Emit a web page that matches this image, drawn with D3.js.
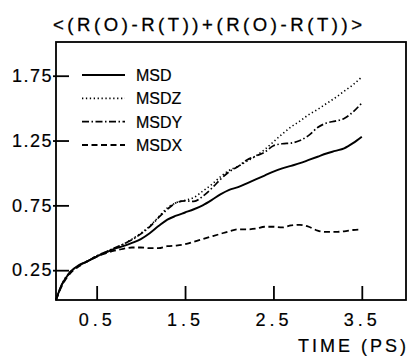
<!DOCTYPE html>
<html>
<head>
<meta charset="utf-8">
<script src="https://cdn.jsdelivr.net/npm/d3@7"></script>
<style>
  html, body { margin: 0; padding: 0; background: #fff; }
  svg { display: block; font-family: "Liberation Sans", Arial, sans-serif; }
</style>
</head>
<body>
<svg id="chart" width="408" height="358"></svg>
<script>
// time axis (ps)
const time = [0.04, 0.1, 0.2, 0.3, 0.4, 0.5, 0.6, 0.7, 0.8, 0.9, 1.0, 1.1, 1.2, 1.3, 1.4, 1.5, 1.6, 1.7, 1.8,
  1.9, 2.0, 2.1, 2.2, 2.3, 2.4, 2.5, 2.6, 2.7, 2.8, 2.9, 3.0, 3.1, 3.2, 3.3, 3.4, 3.5];

const msd = [0.02, 0.13, 0.235, 0.29, 0.32, 0.355, 0.385, 0.415, 0.435, 0.46, 0.49, 0.535, 0.59, 0.64, 0.67,
  0.695, 0.72, 0.75, 0.79, 0.835, 0.87, 0.89, 0.92, 0.95, 0.98, 1.01, 1.035, 1.055, 1.075, 1.10, 1.125, 1.15,
  1.17, 1.19, 1.23, 1.28];
const msdz = [0.02, 0.13, 0.235, 0.285, 0.32, 0.36, 0.39, 0.42, 0.45, 0.49, 0.535, 0.59, 0.66, 0.73, 0.77,
  0.79, 0.81, 0.86, 0.91, 0.97, 1.02, 1.05, 1.09, 1.13, 1.18, 1.24, 1.30, 1.355, 1.40, 1.45, 1.49, 1.535,
  1.58, 1.63, 1.68, 1.74];
const msdy = [0.02, 0.13, 0.235, 0.285, 0.32, 0.36, 0.39, 0.42, 0.45, 0.485, 0.53, 0.585, 0.655, 0.72, 0.77,
  0.785, 0.78, 0.82, 0.88, 0.95, 1.01, 1.05, 1.10, 1.13, 1.16, 1.21, 1.225, 1.23, 1.25, 1.29, 1.35, 1.385,
  1.40, 1.42, 1.47, 1.54];
const msdx = [0.02, 0.12, 0.225, 0.28, 0.32, 0.355, 0.38, 0.40, 0.415, 0.425, 0.425, 0.42, 0.42, 0.435, 0.44,
  0.45, 0.47, 0.49, 0.51, 0.53, 0.55, 0.565, 0.565, 0.57, 0.585, 0.585, 0.58, 0.595, 0.60, 0.585, 0.555,
  0.545, 0.545, 0.55, 0.56, 0.565];

const seriesNames = ['MSD', 'MSDZ', 'MSDY', 'MSDX'];
const xTicks = [0.5, 1.5, 2.5, 3.5];
const yTicks = [0.25, 0.75, 1.25, 1.75];
const yTickLabels = ['0.25', '0.75', '1.25', '1.75'];

const series = [
  { name: 'MSD', values: msd, dash: null, width: 1.9 },
  { name: 'MSDZ', values: msdz, dash: '1.3,2.6', width: 1.6 },
  { name: 'MSDY', values: msdy, dash: '7,2.5,1.5,2.5', width: 1.7 },
  { name: 'MSDX', values: msdx, dash: '6,3.5', width: 1.8 }
];

const plotLeft = 56, plotRight = 406, plotTop = 42, plotBottom = 300;

const x = d3.scaleLinear().domain([0.04, 4.0]).range([plotLeft, plotRight]);
const y = d3.scaleLinear().domain([0.02, 2.01]).range([plotBottom, plotTop]);

const svg = d3.select('#chart');

// title, stretched to the width it has in the original
svg.append('text')
  .attr('x', 53)
  .attr('y', 31)
  .attr('textLength', 309)
  .attr('lengthAdjust', 'spacing')
  .style('font-size', '18.5px')
  .attr('stroke', '#000')
  .attr('stroke-width', 0.3)
  .text('<(R(O)-R(T))+(R(O)-R(T))>');

// frame
svg.append('rect')
  .attr('x', plotLeft)
  .attr('y', plotTop)
  .attr('width', plotRight - plotLeft)
  .attr('height', plotBottom - plotTop)
  .attr('fill', 'none')
  .attr('stroke', '#000')
  .attr('stroke-width', 1.8);

const xAxis = svg.append('g')
  .attr('transform', `translate(0,${plotBottom})`)
  .call(d3.axisBottom(x).tickValues(xTicks).tickSize(-14).tickPadding(13).tickFormat(d3.format('.1f')));

const yAxis = svg.append('g')
  .attr('transform', `translate(${plotLeft},0)`)
  .call(d3.axisLeft(y).tickValues(yTicks).tickSize(-13).tickPadding(3)
    .tickFormat((d, i) => yTickLabels[i]));

[xAxis, yAxis].forEach(a => {
  a.select('.domain').remove();
  a.selectAll('.tick line').attr('stroke', '#000').attr('stroke-width', 1.8);
  a.selectAll('.tick text')
    .attr('fill', '#000')
    .attr('stroke', '#000')
    .attr('stroke-width', 0.2)
    .style('font-family', '"Liberation Sans", Arial, sans-serif')
    .style('font-size', '18px');
});
xAxis.selectAll('.tick text').style('letter-spacing', '4px');
yAxis.selectAll('.tick text').style('letter-spacing', '1.5px');
// the y tick marks poke slightly outside the frame
yAxis.selectAll('.tick line').attr('x1', -3);

// axis title
svg.append('text')
  .attr('x', 298)
  .attr('y', 352)
  .attr('textLength', 108)
  .attr('lengthAdjust', 'spacing')
  .style('font-size', '18px')
  .attr('stroke', '#000')
  .attr('stroke-width', 0.2)
  .text('TIME (PS)');

const line = d3.line()
  .x((d, i) => x(time[i]))
  .y(d => y(d))
  .curve(d3.curveMonotoneX);

svg.append('g')
  .selectAll('path')
  .data(series)
  .join('path')
  .attr('d', d => line(d.values))
  .attr('fill', 'none')
  .attr('stroke', '#000')
  .attr('stroke-width', d => d.width)
  .attr('stroke-dasharray', d => d.dash);

// legend
const legendRowY = d3.scalePoint().domain(seriesNames).range([75, 145]);

const legend = svg.append('g')
  .selectAll('g')
  .data(series)
  .join('g')
  .attr('transform', d => `translate(0,${legendRowY(d.name)})`);

legend.append('line')
  .attr('x1', 82)
  .attr('x2', 125)
  .attr('stroke', '#000')
  .attr('stroke-width', d => d.width)
  .attr('stroke-dasharray', d => d.dash);

legend.append('text')
  .attr('x', 136)
  .attr('y', 6)
  .style('font-size', '16px')
  .attr('stroke', '#000')
  .attr('stroke-width', 0.2)
  .text(d => d.name);
</script>
</body>
</html>
